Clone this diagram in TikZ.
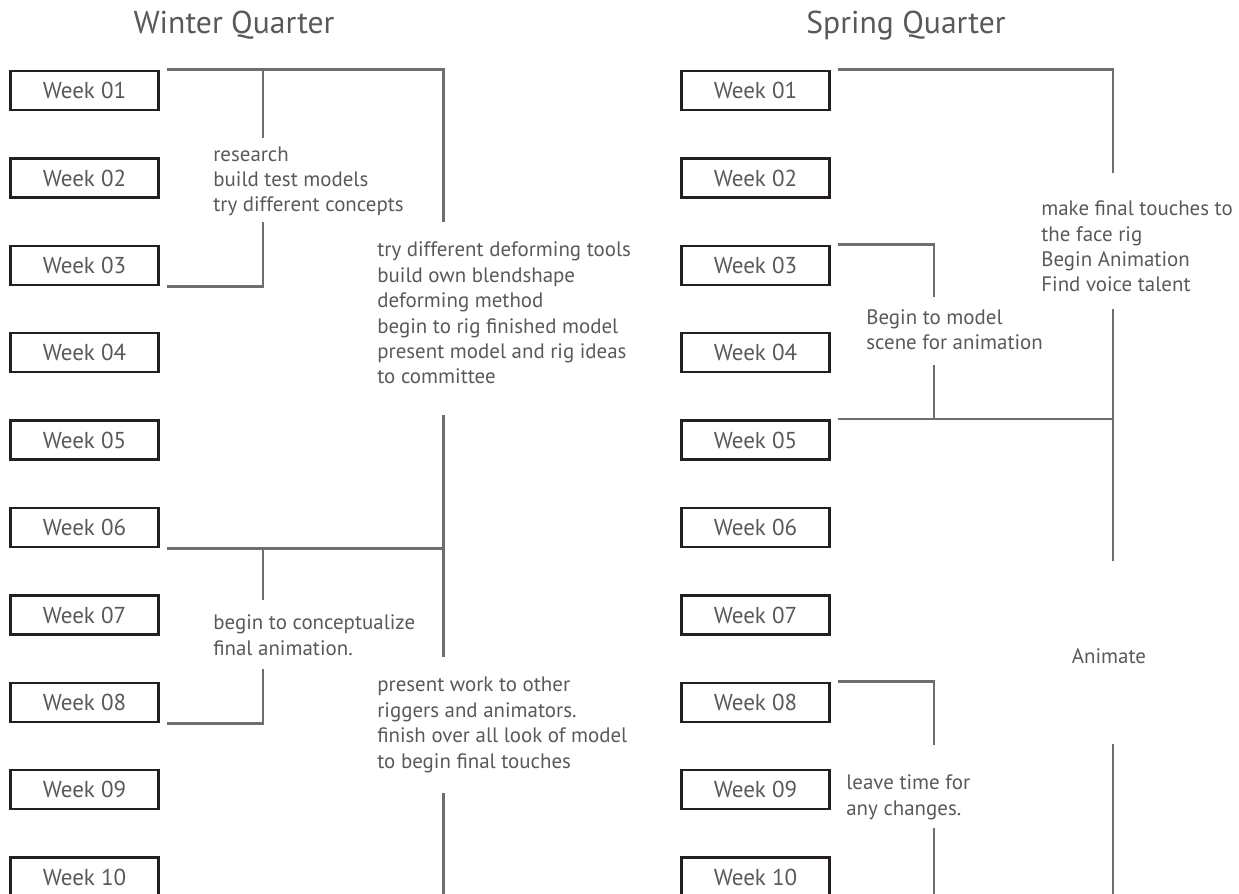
\documentclass[tikz,border=0pt]{standalone}
\usepackage{fontspec}
\setmainfont{PT Sans}
\definecolor{boxblack}{RGB}{35,31,32}
\definecolor{textgray}{RGB}{88,89,91}
\definecolor{linegray}{RGB}{109,110,112}
\tikzstyle{week}=[draw=boxblack,rectangle,line width=1.6pt,minimum width=2.97cm,
                  minimum height=0.78cm,text=textgray,font=\fontsize{13.1}{16}\selectfont]
\tikzstyle{note}=[anchor=base west,align=left,inner sep=0pt,text=textgray,
                  font=\fontsize{11.9}{14.5}\selectfont]
\tikzstyle{quarter}=[anchor=base,text=textgray,font=\fontsize{18}{22}\selectfont]
\tikzstyle{link}=[draw=linegray,line width=1.4pt]

\begin{document}
\begin{tikzpicture}
  \useasboundingbox (0,0) rectangle (24.78,-17.88);

  % quarter titles
  \node[quarter] (wq) at (4.68,-0.68) {Winter Quarter};
  \node[quarter] (sq) at (18.12,-0.68) {Spring Quarter};

  % winter weeks
  \node[week] (w01) at (1.69,-1.81) {Week 01};
  \node[week] (w02) at (1.69,-3.56) {Week 02};
  \node[week] (w03) at (1.69,-5.31) {Week 03};
  \node[week] (w04) at (1.69,-7.05) {Week 04};
  \node[week] (w05) at (1.69,-8.80) {Week 05};
  \node[week] (w06) at (1.69,-10.55) {Week 06};
  \node[week] (w07) at (1.69,-12.30) {Week 07};
  \node[week] (w08) at (1.69,-14.05) {Week 08};
  \node[week] (w09) at (1.69,-15.79) {Week 09};
  \node[week] (w10) at (1.69,-17.54) {Week 10};

  % spring weeks
  \node[week] (s01) at (15.11,-1.81) {Week 01};
  \node[week] (s02) at (15.11,-3.56) {Week 02};
  \node[week] (s03) at (15.11,-5.31) {Week 03};
  \node[week] (s04) at (15.11,-7.05) {Week 04};
  \node[week] (s05) at (15.11,-8.80) {Week 05};
  \node[week] (s06) at (15.11,-10.55) {Week 06};
  \node[week] (s07) at (15.11,-12.30) {Week 07};
  \node[week] (s08) at (15.11,-14.05) {Week 08};
  \node[week] (s09) at (15.11,-15.79) {Week 09};
  \node[week] (s10) at (15.11,-17.54) {Week 10};

  % winter notes (placed at the baseline of their last line)
  \node[note] (wn1) at (4.26,-4.24) {research\\build test models\\try different concepts};
  \node[note] (wn2) at (7.54,-7.68) {try different deforming tools\\build own blendshape\\deforming method\\begin to rig finished model\\present model and rig ideas\\to committee};
  \node[note] (wn3) at (4.26,-13.10) {begin to conceptualize\\final animation.};
  \node[note] (wn4) at (7.54,-15.36) {present work to other\\riggers and animators.\\finish over all look of model\\to begin final touches};

  % spring notes
  \node[note] (sn1) at (20.82,-5.84) {make final touches to\\the face rig\\Begin Animation\\Find voice talent};
  \node[note] (sn2) at (17.32,-7.00) {Begin to model\\scene for animation};
  \node[note,anchor=base] (sn3) at (22.18,-13.26) {Animate};
  \node[note] (sn4) at (16.92,-16.30) {leave time for\\any changes.};

  % line ends next to the notes (winter)
  \coordinate (wa1) at (5.26,-2.76);
  \coordinate (wa2) at (5.26,-4.44);
  \coordinate (wb1) at (8.87,-4.44);
  \coordinate (wb2) at (8.87,-8.30);
  \coordinate (wb3) at (8.87,-13.14);
  \coordinate (wc1) at (5.26,-12.00);
  \coordinate (wc2) at (5.26,-13.38);
  \coordinate (wb4) at (8.87,-15.86);
  \coordinate (wb5) at (8.87,-17.88);

  % line ends next to the notes (spring)
  \coordinate (sb1) at (22.26,-3.46);
  \coordinate (sb2) at (22.26,-6.18);
  \coordinate (sb3) at (22.26,-11.22);
  \coordinate (sb4) at (22.26,-14.88);
  \coordinate (sb5) at (22.26,-17.88);
  \coordinate (sa1) at (18.68,-5.94);
  \coordinate (sa2) at (18.68,-7.30);
  \coordinate (sc1) at (18.68,-14.90);
  \coordinate (sc2) at (18.68,-16.56);
  \coordinate (sc3) at (18.68,-17.88);

  % winter brackets
  \draw[link] ([xshift=0.14cm]w01.north east) -| (wb1);
  \draw[link] (wa1 |- w01.north east) -- (wa1);
  \draw[link] (wa2) |- ([xshift=0.14cm]w03.south east);
  \draw[link] ([xshift=0.14cm]w06.south east) -- (wb2 |- w06.south east);
  \draw[link] (wb2) -- (wb3);
  \draw[link] (wc1 |- w06.south east) -- (wc1);
  \draw[link] (wc2) |- ([xshift=0.14cm]w08.south east);
  \draw[link] (wb4) -- (wb5);

  % spring brackets
  \draw[link] ([xshift=0.14cm]s01.north east) -| (sb1);
  \draw[link] ([xshift=0.14cm]s03.north east) -| (sa1);
  \draw[link] (sa2) |- ([xshift=0.14cm]s05.north east);
  \draw[link] ([xshift=0.14cm]s05.north east) -- (sb2 |- s05.north east);
  \draw[link] (sb2) -- (sb3);
  \draw[link] (sb4) -- (sb5);
  \draw[link] ([xshift=0.14cm]s08.north east) -| (sc1);
  \draw[link] (sc2) -- (sc3);

\end{tikzpicture}
\end{document}
